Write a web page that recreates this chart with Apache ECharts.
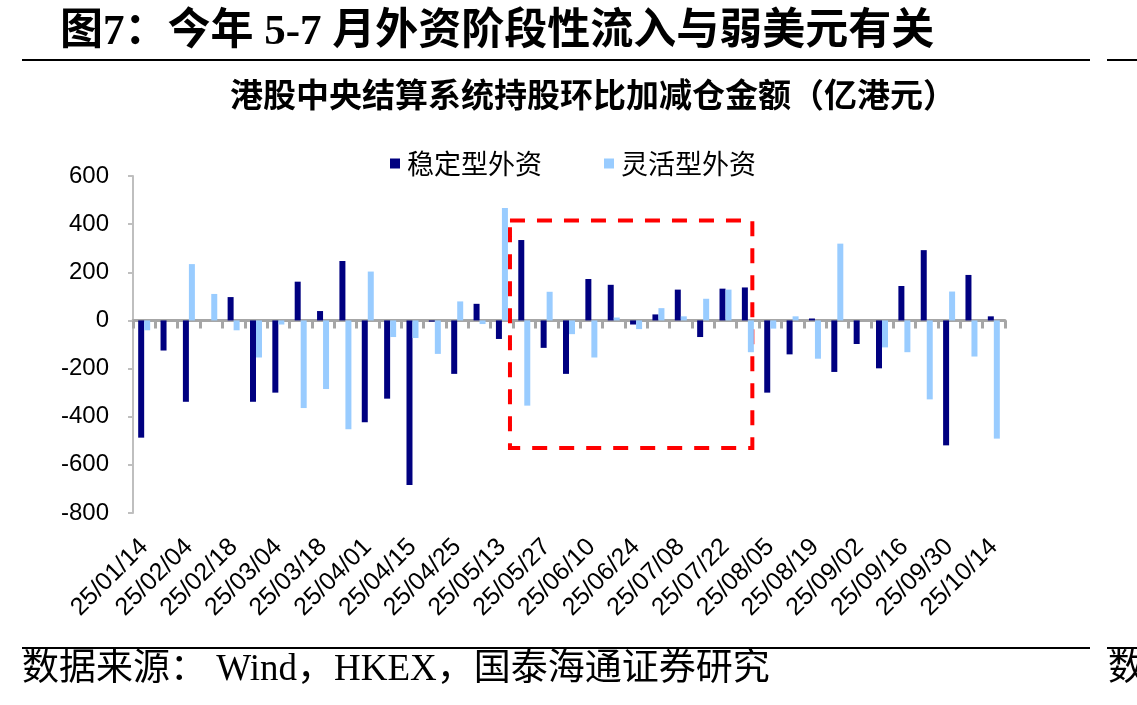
<!DOCTYPE html>
<html>
<head>
<meta charset="utf-8">
<script src="https://cdn.jsdelivr.net/npm/echarts@6/dist/echarts.min.js"></script>
<style>
html,body{margin:0;padding:0;background:#fff;}
#chart{width:1137px;height:705px;}
</style>
</head>
<body>
<div id="chart"></div>
<script>
const categories = ['25/01/14','25/01/21','25/02/04','25/02/11','25/02/18','25/02/25','25/03/04','25/03/11','25/03/18','25/03/25','25/04/01','25/04/08','25/04/15','25/04/17','25/04/25','25/05/06','25/05/13','25/05/20','25/05/27','25/06/03','25/06/10','25/06/17','25/06/24','25/07/02','25/07/08','25/07/15','25/07/22','25/07/29','25/08/05','25/08/12','25/08/19','25/08/26','25/09/02','25/09/09','25/09/16','25/09/23','25/09/30','25/10/08','25/10/14'];
const stableForeign = [-487,-125,-338,0,97,-338,-300,161,39,247,-423,-325,-684,-5,-222,69,-77,334,-114,-222,172,148,-17,25,128,-69,132,137,-300,-141,8,-214,-98,-199,143,292,-519,189,17];
const flexibleForeign = [-41,0,234,110,-41,-154,-17,-364,-285,-452,203,-69,-73,-139,79,-15,467,-354,119,-57,-154,12,-36,51,17,90,128,-132,-34,17,-159,319,0,-112,-132,-328,120,-150,-491];
const seriesNames = ['稳定型外资','灵活型外资'];
const yTicks = {min:-800, max:600, interval:200};
// highlighted period box in data space: [category position from, to], [value top, bottom]
const boxX = [16.36, 27.2];
const boxY = [415, -530];
const mainTitle = '图7：今年 5-7 月外资阶段性流入与弱美元有关';
const subTitle = '港股中央结算系统持股环比加减仓金额（亿港元）';
const sourceText = '数据来源： Wind，HKEX，国泰海通证券研究';

const chart = echarts.init(document.getElementById('chart'), null, {renderer:'canvas'});
const cjkSerif = "'Liberation Serif','Noto Sans CJK SC'";
const option = {
  backgroundColor:'#fff',
  animation:false,
  title:[
    {text: mainTitle, left:55, top:6,
     textStyle:{fontSize:43, fontWeight:'bold', color:'#000', fontFamily:cjkSerif}},
    {text: subTitle, left:230, top:78, padding:0,
     textStyle:{fontSize:33, fontWeight:'bold', color:'#000', fontFamily:"'Noto Sans CJK SC'"}}
  ],
  legend:{
    data: seriesNames, left:385, top:145, itemWidth:10, itemHeight:10, itemGap:62,
    icon:'rect',
    textStyle:{fontSize:27, color:'#000', fontFamily:"'Noto Sans CJK SC'", padding:[0,0,0,2]}
  },
  grid:{left:133, right:132, top:176, bottom:192, containLabel:false},
  xAxis:[
    {type:'category', data:categories, gridIndex:0,
     axisLine:{onZero:true, lineStyle:{color:'#A6A6A6', width:3}},
     axisTick:{show:true, interval:0, length:8, inside:false, lineStyle:{color:'#A6A6A6', width:3}},
     axisLabel:{show:false}, splitLine:{show:false}},
    {type:'category', data:categories, gridIndex:0, position:'bottom',
     axisLine:{show:false, onZero:false}, axisTick:{show:false},
     axisLabel:{show:true, interval:1, rotate:45, margin:30, fontSize:25, color:'#000', fontFamily:"'Liberation Sans'"},
     splitLine:{show:false}},
    {type:'value', gridIndex:0, min:-0.5, max:categories.length-0.5, show:false}
  ],
  yAxis:[{type:'value', min:yTicks.min, max:yTicks.max, interval:yTicks.interval,
    axisLine:{show:true, onZero:false, lineStyle:{color:'#BFBFBF', width:2}},
    axisTick:{show:true, length:5, inside:false, lineStyle:{color:'#BFBFBF', width:2}},
    axisLabel:{fontSize:24, color:'#000', margin:24, fontFamily:"'Liberation Sans'"},
    splitLine:{show:false}}],
  series:[
    {name:seriesNames[0], type:'bar', xAxisIndex:0, yAxisIndex:0, data:stableForeign,
     barWidth:6, barGap:'0%', itemStyle:{color:'#000080'}},
    {name:seriesNames[1], type:'bar', xAxisIndex:0, yAxisIndex:0, data:flexibleForeign,
     barWidth:6, barGap:'0%', itemStyle:{color:'#99CCFF'}},
    {type:'line', xAxisIndex:2, yAxisIndex:0, data:[], silent:true,
     markArea:{silent:true,
       itemStyle:{color:'rgba(0,0,0,0)', borderColor:'#FF0000', borderWidth:4, borderType:[15,12]},
       data:[[{coord:[boxX[0], boxY[0]]},{coord:[boxX[1], boxY[1]]}]]}}
  ],
  graphic:[
    {type:'line', shape:{x1:22, y1:60, x2:1090, y2:60}, style:{stroke:'#000', lineWidth:2}},
    {type:'line', shape:{x1:1107, y1:60, x2:1137, y2:60}, style:{stroke:'#000', lineWidth:2}},
    {type:'line', shape:{x1:22, y1:648, x2:1090, y2:648}, style:{stroke:'#000', lineWidth:2}},
    {type:'line', shape:{x1:1107, y1:648, x2:1137, y2:648}, style:{stroke:'#000', lineWidth:2}},
    {type:'text', left:22, top:652, style:{text:sourceText, fontSize:37, fill:'#000', fontFamily:cjkSerif}},
    {type:'text', left:1108, top:652, style:{text:'数', fontSize:37, fill:'#000', fontFamily:cjkSerif}}
  ]
};
chart.setOption(option);
</script>
</body>
</html>
